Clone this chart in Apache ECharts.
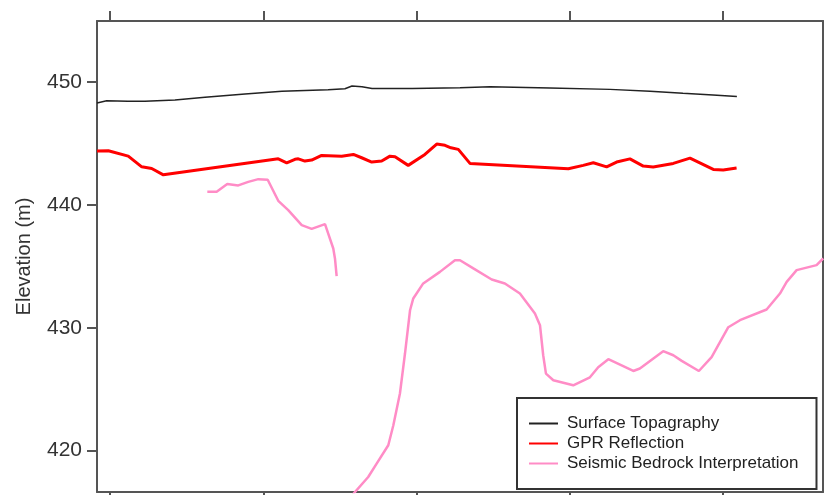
<!DOCTYPE html>
<html>
<head>
<meta charset="utf-8">
<script src="https://cdn.jsdelivr.net/npm/echarts@6/dist/echarts.min.js"></script>
<style>
  html, body { margin: 0; padding: 0; background: #fff; }
  #chart { width: 824px; height: 495px; }
</style>
</head>
<body>
<div id="chart"></div>
<script>
// distance along profile (arbitrary units, ticks every 100) and elevation (m)
var topoX = [-8.5, -2.2, 11.7, 22.8, 42.4, 62.0, 88.1, 112.2, 142.3, 153.3, 157.9, 164.4, 171.0, 197.1, 228.4, 248.0, 287.1, 326.3, 352.4, 373.9, 393.5, 409.1];
var topoY = [448.27, 448.45, 448.41, 448.41, 448.51, 448.73, 449.0, 449.22, 449.35, 449.43, 449.65, 449.59, 449.46, 449.46, 449.51, 449.59, 449.49, 449.38, 449.22, 449.06, 448.92, 448.81];

var gprX = [-8.5, -1.1, 11.9, 20.7, 27.2, 34.8, 109.8, 115.3, 120.7, 122.9, 127.2, 131.6, 138.1, 151.2, 158.8, 164.2, 170.8, 177.3, 182.7, 186.0, 194.6, 205.5, 213.2, 218.6, 222.5, 227.3, 234.9, 299.1, 308.8, 315.4, 324.1, 330.6, 339.3, 348.0, 354.5, 367.6, 378.5, 393.7, 400.2, 408.9];
var gprY = [444.36, 444.39, 443.95, 443.08, 442.95, 442.43, 443.73, 443.41, 443.69, 443.73, 443.55, 443.63, 444.01, 443.95, 444.09, 443.82, 443.47, 443.55, 443.95, 443.90, 443.20, 444.09, 444.93, 444.83, 444.63, 444.50, 443.36, 442.92, 443.20, 443.41, 443.08, 443.47, 443.73, 443.14, 443.06, 443.36, 443.79, 442.87, 442.82, 442.98];

// seismic bedrock comes in two pieces
var seisX1 = [63.5, 69.6, 76.5, 83.7, 90.2, 96.8, 102.9, 109.8, 116.3, 125.1, 131.6, 140.3, 145.7, 146.8, 147.9];
var seisY1 = [441.05, 441.05, 441.68, 441.57, 441.86, 442.08, 442.03, 440.32, 439.56, 438.34, 438.04, 438.42, 436.44, 435.63, 434.19];

var seisX2 = [157.9, 168.5, 174.0, 181.6, 184.9, 189.2, 192.5, 195.8, 197.9, 204.4, 215.3, 225.1, 228.4, 237.1, 249.1, 257.7, 267.5, 277.3, 280.6, 282.7, 284.5, 289.3, 302.3, 313.2, 318.6, 325.2, 341.5, 345.8, 361.0, 367.6, 373.1, 384.3, 392.6, 403.5, 411.1, 428.5, 437.2, 441.6, 448.1, 461.1, 465.4];
var seisY2 = [416.36, 417.86, 418.95, 420.44, 422.07, 424.65, 427.90, 431.42, 432.38, 433.60, 434.54, 435.49, 435.49, 434.82, 433.92, 433.60, 432.78, 431.16, 430.20, 427.76, 426.27, 425.73, 425.32, 425.97, 426.79, 427.44, 426.48, 426.68, 428.09, 427.76, 427.30, 426.48, 427.60, 430.04, 430.61, 431.48, 432.78, 433.73, 434.68, 435.09, 435.63];

var xTicks = [0, 100, 200, 300, 400];
var yTicks = [420, 430, 440, 450];

function pairs(xs, ys) {
    var out = [];
    for (var i = 0; i < xs.length; i++) {
        out.push([xs[i], ys[i]]);
    }
    return out;
}

var axisColor = '#555';
var font = 'Liberation Sans, Arial, sans-serif';

var dom = document.getElementById('chart');
var myChart = echarts.init(dom, null, {renderer: 'canvas'});

var xAxisBase = function (pos) {
    return {
        type: 'value',
        position: pos,
        min: -8.5,
        max: 465.3,
        axisLine: {show: true, onZero: false, lineStyle: {color: axisColor, width: 2}},
        axisTick: {show: true, inside: false, length: 10, customValues: xTicks, lineStyle: {color: axisColor, width: 2}},
        axisLabel: {show: false},
        splitLine: {show: false}
    };
};

option = {
    animation: false,
    backgroundColor: '#fff',
    grid: {
        left: 97,
        right: 1,
        top: 21,
        bottom: 3,
        containLabel: false
    },
    legend: {
        orient: 'vertical',
        left: 517,
        top: 398,
        padding: [17, 18, 17, 11],
        itemWidth: 29,
        itemHeight: 14,
        itemGap: 3,
        borderColor: '#333',
        borderWidth: 2,
        backgroundColor: '#fff',
        itemStyle: {opacity: 0},
        data: ['Surface Topagraphy', 'GPR Reflection', 'Seismic Bedrock Interpretation'],
        textStyle: {
            fontFamily: font,
            fontSize: 17,
            lineHeight: 17,
            color: '#222',
            padding: [0, 0, 0, 4]
        }
    },
    xAxis: [xAxisBase('bottom'), xAxisBase('top')],
    yAxis: [
        {
            type: 'value',
            position: 'left',
            min: 416.64,
            max: 454.94,
            name: 'Elevation (m)',
            nameLocation: 'middle',
            nameGap: 63,
            nameTextStyle: {fontFamily: font, fontSize: 20, color: '#333'},
            axisLine: {show: true, onZero: false, lineStyle: {color: axisColor, width: 2}},
            axisTick: {show: true, inside: false, length: 10, customValues: yTicks, lineStyle: {color: axisColor, width: 2}},
            axisLabel: {show: true, customValues: yTicks, margin: 15, fontFamily: font, fontSize: 21, color: '#333'},
            splitLine: {show: false}
        },
        {
            type: 'value',
            position: 'right',
            min: 416.64,
            max: 454.94,
            axisLine: {show: true, onZero: false, lineStyle: {color: axisColor, width: 2}},
            axisTick: {show: false},
            axisLabel: {show: false},
            splitLine: {show: false}
        }
    ],
    series: [
        {
            name: 'Surface Topagraphy',
            type: 'line',
            symbol: 'none',
            clip: true,
            lineStyle: {color: '#222', width: 1.5},
            itemStyle: {color: '#222'},
            data: pairs(topoX, topoY)
        },
        {
            name: 'GPR Reflection',
            type: 'line',
            symbol: 'none',
            clip: true,
            lineStyle: {color: '#ff0000', width: 3},
            itemStyle: {color: '#ff0000'},
            data: pairs(gprX, gprY)
        },
        {
            name: 'Seismic Bedrock Interpretation',
            type: 'line',
            symbol: 'none',
            clip: true,
            lineStyle: {color: '#ff8cc6', width: 2.5},
            itemStyle: {color: '#ff8cc6'},
            data: pairs(seisX1, seisY1)
        },
        {
            name: 'Seismic Bedrock Interpretation',
            type: 'line',
            symbol: 'none',
            clip: true,
            lineStyle: {color: '#ff8cc6', width: 2.5},
            itemStyle: {color: '#ff8cc6'},
            data: pairs(seisX2, seisY2)
        }
    ]
};

if (option && typeof option === "object") {
    myChart.setOption(option, true);
}
</script>
</body>
</html>
